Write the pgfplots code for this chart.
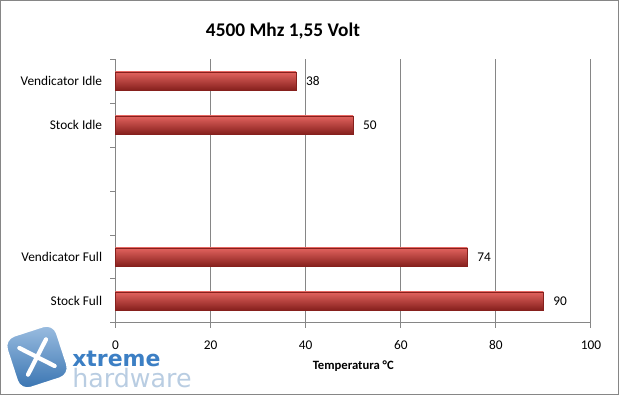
\documentclass[border=0pt]{standalone}
\usepackage{pgfplots}
\pgfplotsset{compat=1.18}
\usepackage{fontspec}
\setmainfont{Carlito}
\newfontfamily\logofont{DejaVu Sans}
\definecolor{barred}{HTML}{C8352F}
\definecolor{barlight}{HTML}{E2635E}
\definecolor{bardark}{HTML}{86201D}
\definecolor{gridgray}{HTML}{868686}
\definecolor{logoblue}{HTML}{3C7FC4}
\definecolor{logolight}{HTML}{B9CDE2}
\begin{document}
\begin{tikzpicture}
% frame
\draw[color=gridgray, line width=0.75pt] (0.5*0.75pt,-0.5*0.75pt) rectangle (618.5*0.75pt,-394.5*0.75pt);
% watermark logo
\begin{scope}[shift={(37*0.75pt,-357*0.75pt)}, rotate=18]
\shade[top color=logoblue!50, bottom color=logoblue!90!black, rounded corners=8pt, draw=white, line width=1pt]
  (-26*0.75pt,-27*0.75pt) rectangle (26*0.75pt,27*0.75pt);
\draw[white, line width=3.2pt, line cap=round] (-14*0.75pt,-14*0.75pt) -- (14*0.75pt,14*0.75pt);
\draw[white, line width=3.2pt, line cap=round] (-14*0.75pt,14*0.75pt) -- (14*0.75pt,-14*0.75pt);
\end{scope}
\node[anchor=west, inner sep=0pt, text=logoblue, font=\logofont\fontsize{16.5}{17}\selectfont\bfseries] at (72*0.75pt,-359*0.75pt) {xtreme};
\node[anchor=west, inner sep=0pt, text=logolight, font=\logofont\fontsize{19}{19}\selectfont] at (72*0.75pt,-378*0.75pt) {hardware};
% title
\node[font=\fontsize{14.5}{17}\selectfont\bfseries] at (283*0.75pt,-31*0.75pt) {4500 Mhz 1,55 Volt};
\begin{axis}[
  at={(115.5*0.75pt,-323*0.75pt)}, anchor=south west,
  scale only axis, width=475.5*0.75pt, height=264*0.75pt,
  xbar, bar width=0.41, bar shift=0pt,
  xmin=0, xmax=100, ymin=-0.5, ymax=5.5,
  xtick={0,20,...,100},
  ytick={-0.5,0.5,...,5.5}, yticklabels={},
  extra y ticks={0,1,4,5},
  extra y tick labels={Stock Full,Vendicator Full,Stock Idle,Vendicator Idle},
  extra y tick style={major tick length=0pt, yticklabel style={xshift=-6.5pt}},
  axis lines*=left,
  axis line style={color=gridgray, line width=0.75pt},
  tick style={color=gridgray, line width=0.75pt},
  major tick length=3.75pt, tick align=outside,
  xmajorgrids, grid style={color=gridgray, line width=0.75pt},
  ticklabel style={font=\fontsize{10}{12}\selectfont},
  /pgf/number format/assume math mode=true,
  xticklabel style={yshift=-6pt},
  xlabel={Temperatura °C},
  xlabel style={font=\fontsize{9.5}{11}\selectfont\bfseries, yshift=-1pt},
  nodes near coords,
  every node near coord/.append style={font=\fontsize{10}{12}\selectfont, anchor=west, xshift=4pt},
  clip=false,
  bar style/.style={draw=bardark, line width=0.3pt, top color=barlight, middle color=barred, bottom color=bardark},
]
\addplot[bar style] coordinates {(90,0)};
\addplot[bar style] coordinates {(74,1)};
\addplot[bar style] coordinates {(50,4)};
\addplot[bar style] coordinates {(38,5)};
\end{axis}
\end{tikzpicture}
\end{document}
